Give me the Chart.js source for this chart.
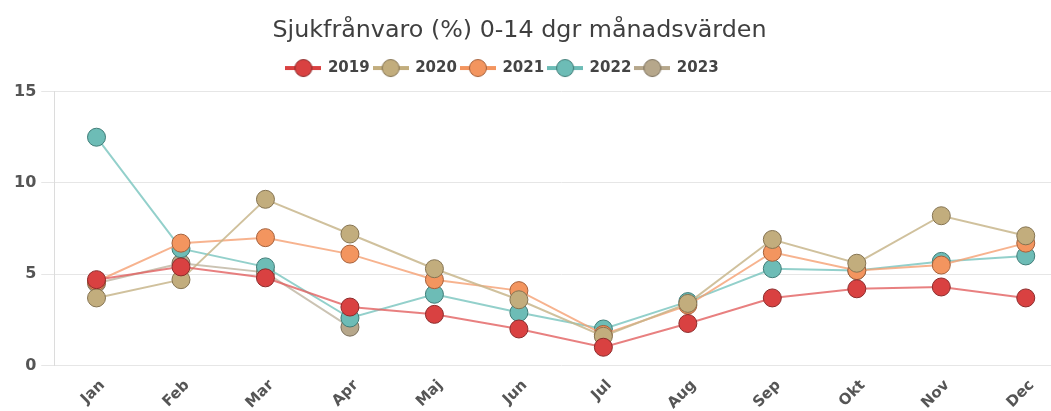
<!DOCTYPE html>
<html>
<head>
<meta charset="utf-8">
<title>Sjukfrånvaro</title>
<script src="https://cdn.jsdelivr.net/npm/chart.js@4"></script>
<style>
  html, body { margin: 0; padding: 0; background: #fff; overflow: hidden; }
  #wrap { width: 1080px; height: 411px; }
</style>
</head>
<body>
<div id="wrap"><canvas id="sick_chart" width="1080" height="411"></canvas></div>
<script>
// data
const months = ["Jan", "Feb", "Mar", "Apr", "Maj", "Jun", "Jul", "Aug", "Sep", "Okt", "Nov", "Dec"];
const years = ["2019", "2020", "2021", "2022", "2023"];
const v2019 = [4.7, 5.4, 4.8, 3.2, 2.8, 2.0, 1.0, 2.3, 3.7, 4.2, 4.3, 3.7];
const v2020 = [3.7, 4.7, 9.1, 7.2, 5.3, 3.6, 1.6, 3.4, 6.9, 5.6, 8.2, 7.1];
const v2021 = [4.6, 6.7, 7.0, 6.1, 4.7, 4.1, 1.7, 3.3, 6.2, 5.2, 5.5, 6.7];
const v2022 = [12.5, 6.4, 5.4, 2.6, 3.9, 2.9, 2.0, 3.5, 5.3, 5.2, 5.7, 6.0];
const v2023 = [4.5, 5.6, 5.1, 2.1, null, null, null, null, null, null, null, null];
const yTicks = [0, 5, 10, 15];

// colours: marker fill, marker border, line
const fills = ["#d94141", "#c2ad7d", "#f3955f", "#6dbcb6", "#b6a78b"];
const borders = ["#8c2b2b", "#857452", "#a5603a", "#3f7c77", "#7b705c"];
const lines = ["rgba(226,96,96,0.8)", "rgba(200,182,140,0.85)", "rgba(245,160,115,0.8)", "rgba(120,196,190,0.8)", "rgba(190,180,160,0.8)"];

const FONT = "'DejaVu Sans', Verdana, sans-serif";

// legend symbol: line with a circle
function legendIcon(i) {
  const c = document.createElement("canvas");
  c.width = 36;
  c.height = 20;
  const g = c.getContext("2d");
  g.strokeStyle = fills[i];
  g.lineWidth = 4;
  g.beginPath();
  g.moveTo(0, 10);
  g.lineTo(36, 10);
  g.stroke();
  g.beginPath();
  g.arc(18, 10, 8.5, 0, Math.PI * 2);
  g.fillStyle = fills[i];
  g.fill();
  g.lineWidth = 1;
  g.strokeStyle = borders[i];
  g.stroke();
  return c;
}

const allValues = [v2019, v2020, v2021, v2022, v2023];
const datasets = years.map((y, i) => ({
  label: y,
  data: allValues[i],
  borderColor: lines[i],
  borderWidth: 2,
  backgroundColor: fills[i],
  pointBackgroundColor: fills[i],
  pointBorderColor: borders[i],
  pointBorderWidth: 1,
  pointRadius: 9,
  pointHoverRadius: 9,
  pointStyle: "circle",
  tension: 0,
}));

// extra space under the legend
const legendGap = {
  id: "legendGap",
  beforeInit(chart) {
    const fit = chart.legend.fit;
    chart.legend.fit = function () {
      fit.bind(chart.legend)();
      this.height += 6;
    };
  },
};

// title and legend sit left of the canvas middle
const shiftHeader = {
  id: "shiftHeader",
  afterLayout(chart) {
    chart.titleBlock.left -= 19;
    chart.titleBlock.right -= 19;
    chart.legend.left -= 36;
    chart.legend.right -= 36;
  },
};

const ctx = document.getElementById("sick_chart");

new Chart(ctx, {
  type: "line",
  data: { labels: months, datasets: datasets },
  plugins: [legendGap, shiftHeader],
  options: {
    responsive: false,
    animation: false,
    layout: { padding: { top: 0, left: 9, right: 12, bottom: 0 } },
    plugins: {
      title: {
        display: true,
        text: "Sjukfrånvaro (%) 0-14 dgr månadsvärden",
        color: "#3f3f3f",
        font: { size: 23.8, weight: "normal", family: FONT },
        padding: { top: 17, bottom: 11 },
      },
      legend: {
        display: true,
        labels: {
          usePointStyle: true,
          pointStyleWidth: 34,
          padding: 4,
          color: "#444",
          font: { size: 15, weight: "bold", family: FONT },
          generateLabels(chart) {
            return chart.data.datasets.map((d, i) => ({
              text: d.label,
              fillStyle: fills[i],
              strokeStyle: borders[i],
              lineWidth: 1,
              pointStyle: legendIcon(i),
              fontColor: "#444",
              hidden: false,
              datasetIndex: i,
            }));
          },
        },
      },
      tooltip: { enabled: false },
    },
    scales: {
      x: {
        offset: true,
        grid: { display: false, drawTicks: false },
        border: { display: false },
        afterFit(scale) {
          scale.height = 45.5;
        },
        ticks: {
          minRotation: 45,
          maxRotation: 45,
          padding: 11,
          labelOffset: 6,
          color: "#555",
          font: { size: 15, weight: "bold", family: FONT },
        },
      },
      y: {
        min: 0,
        max: 15,
        afterBuildTicks(scale) {
          scale.ticks = yTicks.map((v) => ({ value: v }));
        },
        grid: { color: "#e6e6e6", lineWidth: 1, tickLength: 13 },
        border: { display: true, color: "#dcdcdc" },
        ticks: {
          padding: 5,
          color: "#555",
          font: { size: 16, weight: "bold", family: FONT },
        },
      },
    },
  },
});
</script>
</body>
</html>
